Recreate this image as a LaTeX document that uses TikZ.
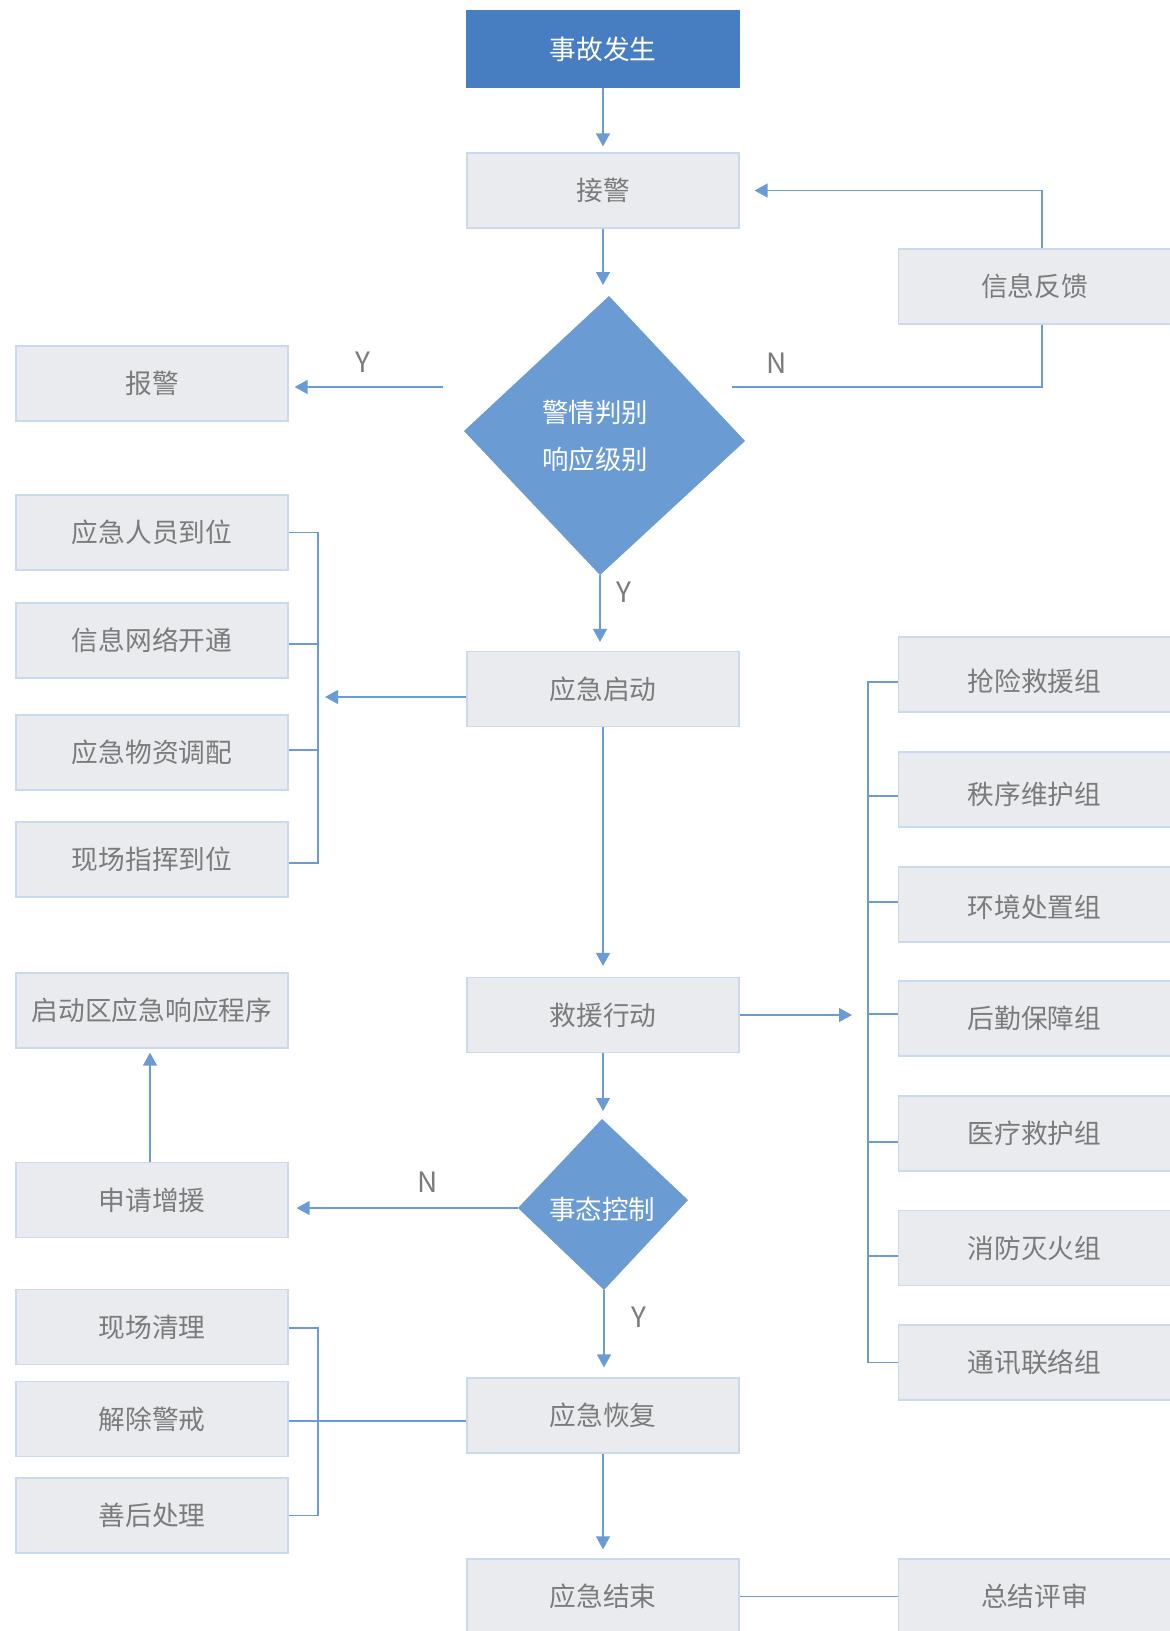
\documentclass[tikz,border=0pt]{standalone}
\usepackage{fontspec}
\newfontfamily\cjk{Noto Sans CJK SC}
\usetikzlibrary{arrows.meta,calc}
\definecolor{lineblue}{HTML}{6B9BD4}
\definecolor{boxfill}{HTML}{E9EBEE}
\definecolor{boxline}{HTML}{C9DAF0}
\definecolor{diafill}{HTML}{6A9BD2}
\definecolor{topfill}{HTML}{477EC1}
\definecolor{textgrey}{HTML}{7B7B7B}
\tikzset{
  box/.style={draw=boxline, fill=boxfill, line width=1.2pt, minimum width=272pt,
    minimum height=75pt, inner sep=0pt, text=textgrey,
    font=\cjk\fontsize{26.7}{30}\selectfont},
  topbox/.style={box, draw=topfill, fill=topfill, text=white, minimum height=76pt},
  ln/.style={draw=lineblue, line width=1.3pt},
  arr/.style={ln, -{Triangle[width=14pt,length=13pt]}},
  lbl/.style={text=textgrey, font=\cjk\fontsize{28}{30}\selectfont, inner sep=0pt},
  diatext/.style={text=white, font=\cjk\fontsize{26.5}{47}\selectfont, align=center, inner sep=0pt}
}
\begin{document}
\begin{tikzpicture}[x=1pt,y=-1pt]
\useasboundingbox (0,0) rectangle (1170,1631);
\fill[white] (0,0) rectangle (1170,1631);

% centre column
\node[topbox] (top) at (603,49) {事故发生};
\node[box] (jj) at (603,190.5) {接警};
\node[box] (qd) at (603,689) {应急启动};
\node[box] (jy) at (603,1015) {救援行动};
\node[box] (hf) at (603,1415.5) {应急恢复};
\node[box] (js) at (603,1596.5) {应急结束};

% diamonds
\coordinate (d1t) at (609,296);
\coordinate (d1r) at (745,441);
\coordinate (d1b) at (600,575);
\coordinate (d1l) at (464,431);
\fill[diafill] (d1t) -- (d1r) -- (d1b) -- (d1l) -- cycle;
\node[diatext] (d1) at (595,436) {警情判别\\响应级别};

\coordinate (d2t) at (602,1119);
\coordinate (d2r) at (688,1200);
\coordinate (d2b) at (604,1290);
\coordinate (d2l) at (518,1208);
\fill[diafill] (d2t) -- (d2r) -- (d2b) -- (d2l) -- cycle;
\node[diatext] (d2) at (602,1209) {事态控制};

% left column
\node[box] (bj) at (152,383.5) {报警};
\node[box] (rydw) at (152,532.5) {应急人员到位};
\node[box] (xxwl) at (152,640.5) {信息网络开通};
\node[box] (wzdp) at (152,752.5) {应急物资调配};
\node[box] (xczh) at (152,859.5) {现场指挥到位};
\node[box] (qdq) at (152,1010.5) {启动区应急响应程序};
\node[box] (sqzy) at (152,1200) {申请增援};
\node[box] (xcql) at (152,1327) {现场清理};
\node[box] (jcjj) at (152,1419) {解除警戒};
\node[box] (shcl) at (152,1515.5) {善后处理};

% right column
\node[box] (fk) at (1034.5,286.5) {信息反馈};
\node[box, text height=36pt] (qx) at (1034.5,674.5) {抢险救援组};
\node[box, text height=32pt] (zx) at (1034.5,789.5) {秩序维护组};
\node[box, text height=28pt] (hj) at (1034.5,904.5) {环境处置组};
\node[box] (hq) at (1034.5,1018.5) {后勤保障组};
\node[box] (yl) at (1034.5,1133.5) {医疗救护组};
\node[box] (xf) at (1034.5,1248) {消防灭火组};
\node[box] (tx) at (1034.5,1362.5) {通讯联络组};
\node[box] (zj) at (1034.5,1596.5) {总结评审};

% bracket coordinates
\coordinate (lb) at (318,0);
\coordinate (rb) at (868,0);
\coordinate (ystart) at (443,387);
\coordinate (nstart) at (732,387);

% main flow
\draw[arr, shorten >=6pt] (top.south) -- (jj.north);
\draw[arr, shorten >=11pt] (jj.south) -- (jj.south |- d1t);
\draw[arr, shorten >=9pt] (d1b) -- (d1b |- qd.north);
\draw[arr, shorten >=11pt] (qd.south) -- (jy.north);
\draw[arr, shorten >=8pt] (jy.south) -- (jy.south |- d2t);
\draw[arr, shorten >=10pt] (d2b) -- (d2b |- hf.north);
\draw[arr, shorten >=9pt] (hf.south) -- (js.north);
\draw[ln] (js.east) -- (zj.west);

% decision 1 branches
\draw[arr, shorten >=6pt] (ystart) -- (ystart -| bj.east);
\node[lbl] (y1) at (363,362) {Y};
\draw[ln] (nstart) -| ([xshift=7.5pt]fk.south);
\draw[arr, shorten >=15pt] ([xshift=7.5pt]fk.north) |- (jj.east);
\node[lbl] (n1) at (777,363) {N};
\node[lbl] (y2) at (624,592) {Y};

% left bracket of 应急启动
\draw[ln] (rydw.east) -- (rydw.east -| lb) |- ([yshift=-3.5pt]xczh.east);
\draw[ln] ([yshift=-3.5pt]xxwl.east) -- ([yshift=-3.5pt]xxwl.east -| lb);
\draw[ln] ([yshift=2.5pt]wzdp.east) -- ([yshift=2.5pt]wzdp.east -| lb);
\draw[arr, shorten >=7pt] ([yshift=-8pt]qd.west) -- ([yshift=-8pt]qd.west -| lb);

% right bracket of 救援行动
\draw[ln] ([yshift=-7.5pt]qx.west) -- ([yshift=-7.5pt]qx.west -| rb) |- (tx.west);
\draw[ln] ([yshift=-6.5pt]zx.west) -- ([yshift=-6.5pt]zx.west -| rb);
\draw[ln] ([yshift=2.5pt]hj.west) -- ([yshift=2.5pt]hj.west -| rb);
\draw[ln] ([yshift=4.5pt]hq.west) -- ([yshift=4.5pt]hq.west -| rb);
\draw[ln] ([yshift=-8.5pt]yl.west) -- ([yshift=-8.5pt]yl.west -| rb);
\draw[ln] ([yshift=-8pt]xf.west) -- ([yshift=-8pt]xf.west -| rb);
\draw[arr, shorten >=16pt] (jy.east) -- (jy.east -| rb);

% decision 2 branches
\draw[arr, shorten >=8pt] (d2l) -- (d2l -| sqzy.east);
\node[lbl] (n2) at (428,1182) {N};
\node[lbl] (y3) at (639,1317) {Y};
\draw[arr, shorten >=4pt] ([xshift=-2pt]sqzy.north) -- ([xshift=-2pt]qdq.south);

% left bracket of 应急恢复
\draw[ln] ([yshift=-1pt]xcql.east) -- ([yshift=-1pt]xcql.east -| lb) |- (shcl.east);
\draw[ln] ([yshift=-5.5pt]hf.west) -- ([yshift=-5.5pt]hf.west -| jcjj.east);
\end{tikzpicture}
\end{document}
